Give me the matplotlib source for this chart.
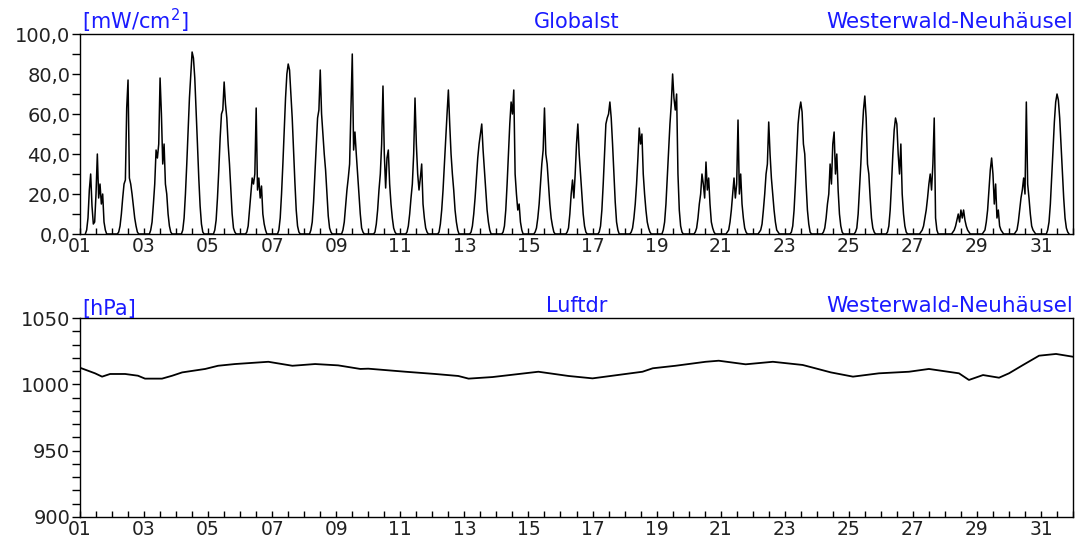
#!/usr/bin/env python3
"""Globalstrahlung und Luftdruck, Westerwald-Neuhaeusel, ein Monat."""

import matplotlib
matplotlib.use("Agg")
import matplotlib.pyplot as plt

STATION = "Westerwald-Neuhäusel"
BLUE = "#1a1aff"

# Globalstrahlung [mW/cm2], Stundenwerte 05..20 Uhr je Tag
hours = list(range(5, 21))
day01 = [2, 8, 22, 30, 14, 5, 6, 20, 40, 18, 25, 15, 20, 6, 2, 0]
day02 = [1, 4, 10, 18, 25, 27, 63, 77, 28, 25, 20, 14, 8, 4, 1, 0]
day03 = [2, 6, 15, 25, 42, 38, 45, 78, 60, 35, 45, 25, 20, 10, 4, 1]
day04 = [2, 8, 20, 35, 52, 68, 80, 91, 88, 78, 62, 45, 28, 14, 5, 1]
day05 = [2, 7, 18, 32, 48, 60, 62, 76, 65, 58, 45, 35, 22, 10, 3, 1]
day06 = [1, 4, 12, 20, 28, 25, 30, 63, 22, 28, 18, 24, 10, 5, 2, 0]
day07 = [2, 8, 20, 35, 52, 68, 80, 85, 82, 70, 58, 42, 26, 12, 4, 1]
day08 = [2, 6, 16, 30, 45, 58, 62, 82, 60, 50, 40, 32, 20, 9, 3, 1]
day09 = [2, 6, 14, 22, 28, 35, 62, 90, 42, 51, 40, 30, 20, 10, 3, 1]
day10 = [1, 5, 12, 22, 30, 45, 74, 40, 23, 38, 42, 25, 15, 8, 3, 1]
day11 = [1, 4, 10, 18, 25, 40, 68, 45, 30, 22, 28, 35, 15, 8, 3, 1]
day12 = [1, 5, 12, 22, 35, 48, 60, 72, 55, 40, 30, 22, 12, 6, 2, 0]
day13 = [1, 4, 10, 18, 28, 38, 45, 50, 55, 42, 32, 22, 12, 6, 2, 0]
day14 = [1, 4, 12, 25, 40, 55, 66, 60, 72, 30, 20, 12, 15, 6, 2, 0]
day15 = [1, 3, 8, 15, 25, 35, 42, 63, 40, 35, 25, 15, 8, 4, 1, 0]
day16 = [1, 3, 10, 20, 27, 18, 30, 45, 55, 40, 30, 20, 10, 4, 1, 0]
day17 = [1, 4, 12, 25, 40, 55, 58, 60, 66, 58, 45, 30, 16, 6, 2, 0]
day18 = [1, 3, 8, 15, 25, 38, 53, 45, 50, 30, 20, 12, 6, 3, 1, 0]
day19 = [2, 6, 15, 28, 40, 55, 65, 80, 68, 62, 70, 30, 12, 4, 1, 0]
day20 = [1, 3, 8, 15, 20, 30, 25, 18, 36, 22, 28, 15, 6, 3, 1, 0]
day21 = [1, 2, 6, 12, 20, 28, 18, 25, 57, 20, 30, 15, 8, 3, 1, 0]
day22 = [1, 2, 5, 12, 20, 30, 35, 56, 40, 28, 20, 12, 6, 2, 1, 0]
day23 = [1, 4, 12, 25, 40, 55, 62, 66, 61, 45, 40, 25, 12, 5, 1, 0]
day24 = [1, 3, 8, 15, 20, 35, 25, 45, 51, 30, 40, 22, 10, 4, 1, 0]
day25 = [1, 3, 10, 22, 35, 50, 62, 69, 58, 35, 30, 18, 8, 3, 1, 0]
day26 = [1, 4, 12, 25, 40, 52, 58, 55, 40, 30, 45, 20, 10, 4, 1, 0]
day27 = [0, 1, 2, 4, 8, 12, 18, 25, 30, 22, 35, 58, 8, 2, 0, 0]
day28 = [0, 1, 2, 4, 7, 10, 6, 12, 8, 12, 7, 4, 2, 1, 0, 0]
day29 = [1, 2, 6, 12, 22, 32, 38, 30, 15, 25, 8, 12, 4, 2, 1, 0]
day30 = [1, 2, 6, 12, 18, 22, 28, 20, 66, 25, 18, 10, 4, 2, 1, 0]
day31 = [2, 6, 15, 28, 42, 56, 66, 70, 67, 58, 45, 32, 18, 8, 3, 1]
globalst = [
    day01, day02, day03, day04, day05, day06, day07, day08,
    day09, day10, day11, day12, day13, day14, day15, day16,
    day17, day18, day19, day20, day21, day22, day23, day24,
    day25, day26, day27, day28, day29, day30, day31,
]

# Luftdruck [hPa], Zeit in Tagen
p_day = [
    1.0, 1.47, 1.69, 1.94, 2.41, 2.81, 3.03, 3.56, 3.88, 4.19,
    4.91, 5.31, 5.84, 6.88, 7.63, 8.34, 9.06, 9.75, 10.0, 11.16,
    12.09, 12.81, 13.13, 13.88, 15.31, 16.25, 17.0, 18.56, 18.88,
    19.59, 20.53, 20.94, 21.78, 22.63, 23.56, 23.97, 24.44, 25.13,
    25.94, 26.88, 27.5, 28.44, 28.75, 29.19, 29.69, 30.0, 30.44,
    30.94, 31.47, 32.0,
]
p_hpa = [
    1012.5, 1008.3, 1005.8, 1007.8, 1007.8, 1006.5, 1004.3, 1004.3,
    1006.5, 1009.0, 1011.6, 1014.0, 1015.3, 1017.0, 1014.0, 1015.3,
    1014.3, 1011.6, 1011.8, 1009.5, 1007.8, 1006.3, 1004.3, 1005.5,
    1009.5, 1006.3, 1004.5, 1009.5, 1012.1, 1014.0, 1017.0, 1017.8,
    1015.1, 1017.0, 1014.6, 1012.0, 1009.0, 1005.8, 1008.3, 1009.5,
    1011.6, 1008.3, 1003.3, 1007.0, 1005.0, 1008.3, 1014.6, 1021.6,
    1022.9, 1020.8,
]

x_days = [1, 3, 5, 7, 9, 11, 13, 15, 17, 19, 21, 23, 25, 27, 29, 31]
x_labels = ["01", "03", "05", "07", "09", "11", "13", "15",
            "17", "19", "21", "23", "25", "27", "29", "31"]
g_ticks = [0, 20, 40, 60, 80, 100]
g_labels = ["0,0", "20,0", "40,0", "60,0", "80,0", "100,0"]
p_ticks = [900, 950, 1000, 1050]
p_labels = ["900", "950", "1000", "1050"]


def style_axis(ax, yticks, ylabels, yminor, ylim):
    ax.set_xlim(1, 32)
    ax.set_ylim(*ylim)
    ax.set_xticks(x_days)
    ax.set_xticklabels(x_labels)
    ax.set_xticks([1 + 0.5 * i for i in range(63)], minor=True)
    ax.set_yticks(yticks)
    ax.set_yticklabels(ylabels)
    ax.set_yticks(yminor, minor=True)
    ax.tick_params(axis="x", which="both", direction="in",
                   length=4, width=1, pad=2,
                   labelsize=13.5, labelcolor="#222222")
    ax.tick_params(axis="y", which="both", direction="out",
                   length=6, width=1, pad=1,
                   labelsize=14, labelcolor="#222222")
    for s in ax.spines.values():
        s.set_linewidth(1.0)
        s.set_color("black")


def titles(ax, unit, name):
    kw = dict(transform=ax.transAxes, color=BLUE, va="bottom")
    ax.text(0.002, -0.005, unit, ha="left", fontsize=15,
            **kw).set_y(0.995)
    ax.text(0.5, 1.01, name, ha="center", fontsize=15, **kw)
    ax.text(1.0, 1.01, STATION, ha="right", fontsize=15.5, **kw)


def main():
    fig = plt.figure(figsize=(10.78, 5.45), dpi=100)
    ax1 = fig.add_axes([0.0742, 0.5706, 0.9212, 0.3670])
    ax2 = fig.add_axes([0.0742, 0.0514, 0.9212, 0.3651])

    gx, gy = [], []
    for i, vals in enumerate(globalst):
        d = i + 1
        gx.append(d + 4 / 24)
        gy.append(0)
        for h, v in zip(hours, vals):
            gx.append(d + h / 24)
            gy.append(v)
        gx.append(d + 21 / 24)
        gy.append(0)
    ax1.plot(gx, gy, color="black", lw=1.1)
    style_axis(ax1, g_ticks, g_labels,
               [10, 30, 50, 70, 90], (0, 100))
    titles(ax1, r"[mW/cm$^2$]", "Globalst")

    ax2.plot(p_day, p_hpa, color="black", lw=1.3)
    style_axis(ax2, p_ticks, p_labels,
               list(range(910, 1050, 10)), (900, 1050))
    titles(ax2, "[hPa]", "Luftdr")

    fig.savefig("out.png", dpi=100)


if __name__ == "__main__":
    main()
